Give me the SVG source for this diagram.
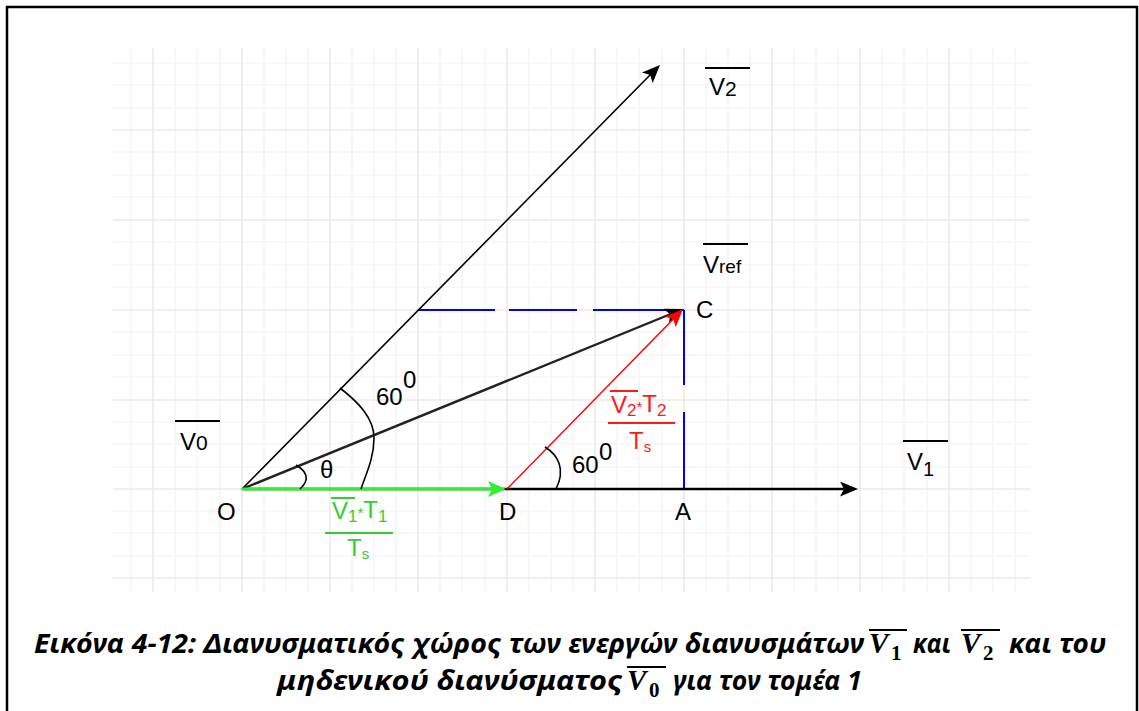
<svg xmlns="http://www.w3.org/2000/svg" width="1139" height="711" viewBox="0 0 1139 711">
<defs>
<style>
.major{stroke:#eaeaea;stroke-width:1.6;fill:none}
.minor{stroke:#f6f6f6;stroke-width:1.6;fill:none}
.lbl{font-family:"Liberation Sans",Arial,sans-serif;font-size:24px;fill:#000}
.g{fill:#33cc33}
.r{fill:#ff1a1a}
.ov{stroke:#000;stroke-width:2}
.cap{font-family:"Noto Sans","Open Sans",sans-serif;font-weight:bold;font-style:italic;font-size:26px;fill:#000}
.mv{font-family:"Liberation Serif","DejaVu Serif",serif;font-weight:bold;font-style:italic;font-size:29px;fill:#000}
.ms{font-family:"Liberation Serif","DejaVu Serif",serif;font-weight:bold;font-size:21px;fill:#000}
.arc{stroke:#000;stroke-width:1.6;fill:none}
</style>
<clipPath id="gridclip"><rect x="113" y="48" width="917" height="544"/></clipPath>
<marker id="ah" viewBox="0 0 18 15" refX="14" refY="7.5" markerWidth="18" markerHeight="15" markerUnits="userSpaceOnUse" orient="auto"><path d="M0,0 L18,7.5 L0,15 L4,7.5 Z" fill="#000"/></marker>
<marker id="ahg" viewBox="0 0 18 16" refX="14" refY="8" markerWidth="18" markerHeight="16" markerUnits="userSpaceOnUse" orient="auto"><path d="M0,0 L18,8 L0,16 L4,8 Z" fill="#33ee33"/></marker>
<marker id="ahr" viewBox="0 0 18 15" refX="14" refY="7.5" markerWidth="18" markerHeight="15" markerUnits="userSpaceOnUse" orient="auto"><path d="M0,0 L18,7.5 L0,15 L4,7.5 Z" fill="#ff0000"/></marker>
</defs>
<rect x="0" y="0" width="1139" height="711" fill="#fff"/>
<rect x="7" y="7" width="1130" height="720" fill="none" stroke="#000" stroke-width="2.5"/>

<g id="grid" clip-path="url(#gridclip)">
<path class="minor" d="M131,48V592 M175,48V592 M197,48V592 M220,48V592 M264,48V592 M286,48V592 M308,48V592 M352,48V592 M374,48V592 M396,48V592 M440,48V592 M462,48V592 M485,48V592 M529,48V592 M551,48V592 M573,48V592 M617,48V592 M639,48V592 M662,48V592 M706,48V592 M728,48V592 M750,48V592 M794,48V592 M816,48V592 M838,48V592 M882,48V592 M904,48V592 M927,48V592 M971,48V592 M993,48V592 M1015,48V592"/>
<path class="minor" d="M113,63H1030 M113,85H1030 M113,108H1030 M113,152H1030 M113,175H1030 M113,197H1030 M113,242H1030 M113,265H1030 M113,287H1030 M113,332H1030 M113,355H1030 M113,377H1030 M113,422H1030 M113,444H1030 M113,467H1030 M113,511H1030 M113,533H1030 M113,556H1030"/>
<path class="major" d="M153,48V592 M242,48V592 M330,48V592 M418,48V592 M507,48V592 M595,48V592 M684,48V592 M772,48V592 M860,48V592 M949,48V592"/>
<path class="major" d="M113,130H1030 M113,220H1030 M113,310H1030 M113,400H1030 M113,489H1030 M113,578H1030"/>
</g>

<g id="connectors">
<path d="M418,310H495 M509,310H577 M593,310H684" stroke="#0000ff" stroke-width="2" fill="none"/>
<path d="M684,310V385 M684,412V489" stroke="#0000ff" stroke-width="2" fill="none"/>
<line x1="242" y1="489" x2="657.2" y2="67.8" stroke="#000" stroke-width="1.6" marker-end="url(#ah)"/>
<line x1="242" y1="489" x2="854" y2="489" stroke="#000" stroke-width="2.4" marker-end="url(#ah)"/>
<line x1="242" y1="489" x2="679.3" y2="310.5" stroke="#222" stroke-width="2.4" marker-end="url(#ah)"/>
<line x1="242" y1="489" x2="502" y2="489" stroke="#33ee33" stroke-width="3" marker-end="url(#ahg)"/>
<line x1="507" y1="489" x2="680.2" y2="311.9" stroke="#ff0000" stroke-width="1.5" marker-end="url(#ahr)"/>
<path class="arc" d="M340,388 C358,402 374,418 374,438 C374,458 366,474 361,489"/>
<path class="arc" d="M296,465 C306,471 311,479 300,489"/>
<path class="arc" d="M545,447 C558,455 566,469 556,489"/>
</g>

<g id="label-v2"><line class="ov" x1="705" y1="68" x2="750" y2="68"/><text class="lbl" x="709" y="95">V<tspan font-size="21" dy="1">2</tspan></text></g>
<g id="label-vref"><line class="ov" x1="703" y1="244" x2="748" y2="244"/><text class="lbl" x="703" y="273">V<tspan font-size="19">ref</tspan></text></g>
<g id="node-c"><text class="lbl" x="696" y="318">C</text></g>
<g id="label-v0"><line class="ov" x1="175" y1="421" x2="220" y2="421"/><text class="lbl" x="180" y="450">V<tspan font-size="21">0</tspan></text></g>
<g id="label-v1"><line class="ov" x1="903" y1="441" x2="948" y2="441"/><text class="lbl" x="907" y="470">V<tspan font-size="20" dy="6">1</tspan></text></g>
<g id="node-o"><text class="lbl" x="217" y="520">O</text></g>
<g id="node-d"><text class="lbl" x="499" y="520">D</text></g>
<g id="node-a"><text class="lbl" x="675" y="520">A</text></g>
<g id="label-theta"><text class="lbl" x="320" y="478">θ</text></g>
<g id="label-60a"><text class="lbl" x="376" y="405">60</text><text class="lbl" x="403" y="388">0</text></g>
<g id="label-60b"><text class="lbl" x="572" y="473">60</text><text class="lbl" x="599" y="460">0</text></g>

<g id="label-green">
<line x1="331" y1="498" x2="355" y2="498" stroke="#33cc33" stroke-width="2"/>
<text class="lbl g" x="332" y="519" font-size="22">V<tspan font-size="17" dy="3">1</tspan><tspan font-size="15" dy="-4">*</tspan>T<tspan font-size="17" dy="4">1</tspan></text>
<line x1="325" y1="533" x2="393" y2="533" stroke="#33cc33" stroke-width="2"/>
<text class="lbl g" x="347" y="556" font-size="20">T<tspan font-size="15" dy="3">s</tspan></text>
</g>
<g id="label-red">
<line x1="610" y1="391" x2="638" y2="391" stroke="#ff1a1a" stroke-width="2"/>
<text class="lbl r" x="611" y="413" font-size="22">V<tspan font-size="17" dy="3">2</tspan><tspan font-size="15" dy="-4">*</tspan>T<tspan font-size="17" dy="4">2</tspan></text>
<line x1="608" y1="423" x2="675" y2="423" stroke="#ff1a1a" stroke-width="2"/>
<text class="lbl r" x="629" y="449" font-size="20">T<tspan font-size="15" dy="3">s</tspan></text>
</g>

<g id="caption">
<text class="cap" x="34" y="653" textLength="830" lengthAdjust="spacingAndGlyphs">Εικόνα 4-12: Διανυσματικός χώρος των ενεργών διανυσμάτων</text>
<line class="ov" x1="869" y1="630" x2="907" y2="630"/>
<text class="mv" x="869" y="653">V</text><text class="ms" x="891" y="660">1</text>
<text class="cap" x="913" y="653" textLength="38" lengthAdjust="spacingAndGlyphs">και</text>
<line class="ov" x1="961" y1="630" x2="1000" y2="630"/>
<text class="mv" x="961" y="653">V</text><text class="ms" x="983" y="660">2</text>
<text class="cap" x="1009" y="653" textLength="97" lengthAdjust="spacingAndGlyphs">και του</text>
<text class="cap" x="277" y="690" textLength="346" lengthAdjust="spacingAndGlyphs">μηδενικού διανύσματος</text>
<line class="ov" x1="627" y1="667" x2="666" y2="667"/>
<text class="mv" x="627" y="690">V</text><text class="ms" x="649" y="697">0</text>
<text class="cap" x="673" y="690" textLength="189" lengthAdjust="spacingAndGlyphs">για τον τομέα 1</text>
</g>
</svg>
